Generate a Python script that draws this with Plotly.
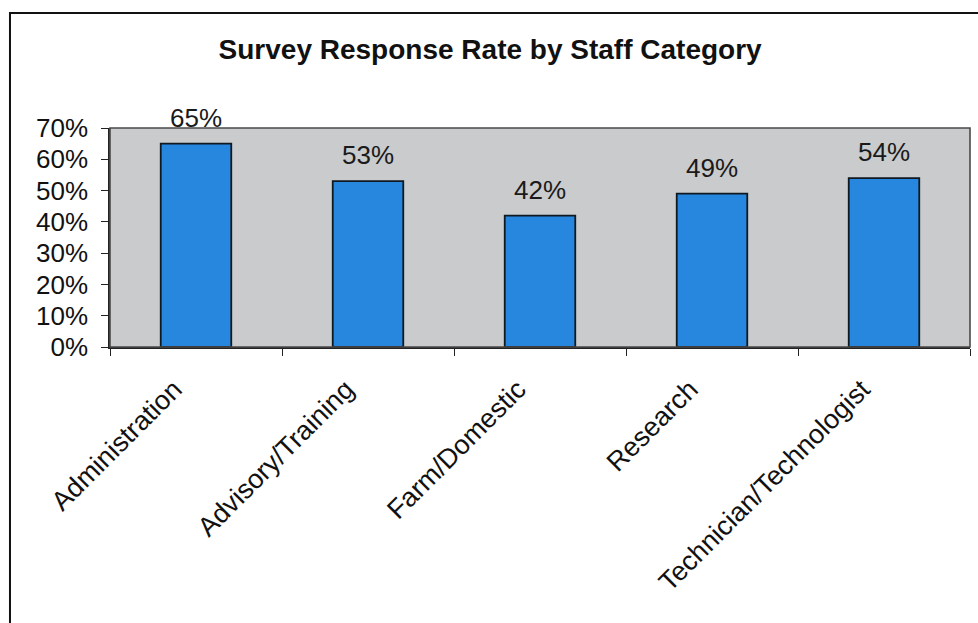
import plotly.graph_objects as go

categories = ["Administration", "Advisory/Training", "Farm/Domestic", "Research", "Technician/Technologist"]
response_rate = [0.65, 0.53, 0.42, 0.49, 0.54]
value_labels = ["65%", "53%", "42%", "49%", "54%"]
y_ticks = [0, 0.1, 0.2, 0.3, 0.4, 0.5, 0.6, 0.7]
y_tick_labels = ["0%", "10%", "20%", "30%", "40%", "50%", "60%", "70%"]

FONT = "Liberation Sans, Arial, sans-serif"

fig = go.Figure()
fig.add_trace(go.Bar(
    x=categories,
    y=response_rate,
    marker=dict(color="#2787df", line=dict(color="#101820", width=1.8)),
    width=0.41,
    hoverinfo="skip",
))

for c, v, t in zip(categories, response_rate, value_labels):
    fig.add_annotation(x=c, y=v, text=t, showarrow=False, yanchor="bottom",
                       yshift=9, font=dict(family=FONT, size=26, color="#1a1a1a"))

# plot area border (gray)
fig.add_shape(type="rect", xref="paper", yref="paper", x0=0, y0=0, x1=1, y1=1,
              line=dict(color="#4a4a4a", width=1.6), layer="above")
# outer chart border
fig.add_shape(type="rect", xref="paper", yref="paper", x0=-0.1163, y0=-1.30, x1=1.03, y1=1.525,
              line=dict(color="#111111", width=2))

fig.update_layout(
    width=978, height=623,
    margin=dict(l=110, r=8, t=128, b=276),
    paper_bgcolor="white",
    plot_bgcolor="#c9cbcc",
    showlegend=False,
    title=dict(text="<b>Survey Response Rate by Staff Category</b>",
               x=0.442, xref="paper", xanchor="center",
               y=1 - 49 / 623, yref="container", yanchor="middle",
               font=dict(family=FONT, size=28, color="#111111")),
    font=dict(family=FONT, color="#111111"),
)

fig.update_xaxes(
    type="category",
    tickangle=-45,
    tickfont=dict(family=FONT, size=27, color="#111111"),
    ticks="outside", ticklen=7, tickcolor="#222222", tickson="boundaries",
    ticklabelstandoff=14, ticklabelshift=-22,
    showline=True, linecolor="#222222", linewidth=1.5,
    showgrid=False,
)
fig.update_yaxes(
    range=[0, 0.7],
    tickvals=y_ticks, ticktext=y_tick_labels,
    tickfont=dict(family=FONT, size=26, color="#111111"),
    ticks="outside", ticklen=7, tickcolor="#222222",
    ticklabelstandoff=8,
    showline=True, linecolor="#222222", linewidth=1.5,
    showgrid=False, zeroline=False,
)

fig.write_html("out.html")
